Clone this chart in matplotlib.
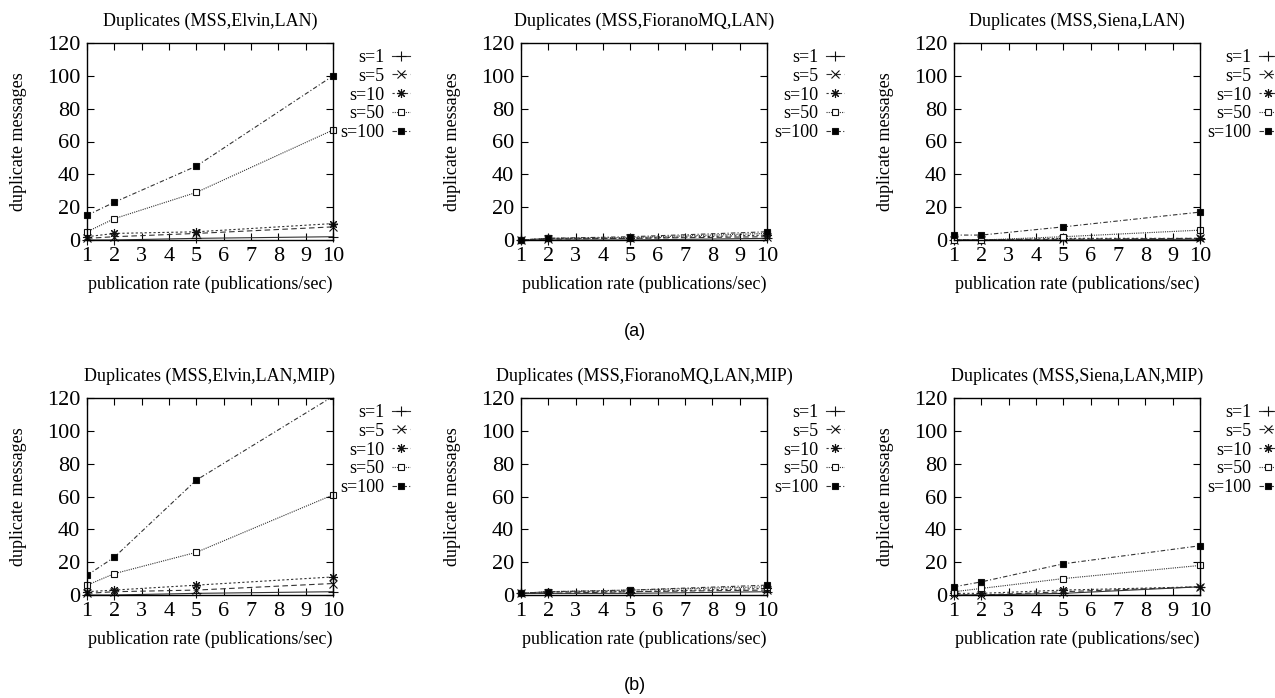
import matplotlib
matplotlib.use("Agg")
from matplotlib import pyplot as plt

rates = [1, 2, 5, 10]
series_labels = ['s=1', 's=5', 's=10', 's=50', 's=100']

titles = ['Duplicates (MSS,Elvin,LAN)',
          'Duplicates (MSS,FioranoMQ,LAN)',
          'Duplicates (MSS,Siena,LAN)',
          'Duplicates (MSS,Elvin,LAN,MIP)',
          'Duplicates (MSS,FioranoMQ,LAN,MIP)',
          'Duplicates (MSS,Siena,LAN,MIP)']

# duplicate messages per panel, one row per s value
elvin_lan = [[0, 0, 1, 2],
             [1, 2, 4, 8],
             [2, 4, 5, 10],
             [5, 13, 29, 67],
             [15, 23, 45, 100]]
fiorano_lan = [[0, 0, 0, 1],
               [0, 0.5, 1, 2],
               [0, 1, 1, 3],
               [0, 1, 1.5, 4],
               [0, 1, 2, 5]]
siena_lan = [[0, 0, 0, 0.5],
             [0, 0, 0.5, 1],
             [0, 0, 1, 1],
             [0, 0, 2, 6],
             [3, 3, 8, 17]]
elvin_mip = [[0, 0, 1, 2],
             [1, 2, 3, 7],
             [2, 3, 6, 11],
             [6, 13, 26, 61],
             [12, 23, 70, 121]]
fiorano_mip = [[1, 1, 1, 2],
               [1, 1, 2, 3],
               [1, 2, 2, 4],
               [1, 2, 3, 5],
               [1, 2, 3, 6]]
siena_mip = [[0, 0, 1, 5],
             [0, 0, 2, 5],
             [1, 1, 3, 5],
             [2, 4, 10, 18],
             [5, 8, 19, 30]]

panels = [elvin_lan, fiorano_lan, siena_lan, elvin_mip, fiorano_mip, siena_mip]

styles = [dict(marker='+', linestyle='-', mfc='none', ms=7),
          dict(marker='x', linestyle=(0, (5, 3)), mfc='none', ms=5.5),
          dict(marker=(8, 2, 0), linestyle=(0, (2, 2)), mfc='none', ms=6.5),
          dict(marker='s', linestyle=(0, (1, 1)), mfc='white', ms=4.8),
          dict(marker='s', linestyle=(0, (4, 2, 1, 2)), mfc='black', ms=5)]

plt.rcParams['font.family'] = 'Liberation Serif'

fig = plt.figure(figsize=(12.75, 6.98), dpi=100)
W, H = 1275.0, 698.0
lefts = [87, 521, 954]
tops = [43, 398]
aw, ah = 246, 197

for i, data in enumerate(panels):
    r, c = divmod(i, 3)
    ax = fig.add_axes([lefts[c] / W, 1 - (tops[r] + ah) / H, aw / W, ah / H])
    for vals, lab, st in zip(data, series_labels, styles):
        ax.plot(rates, vals, color='#333333', lw=0.8, mec='#111111',
                mew=0.8, label=lab, clip_on=max(vals) > 120, **st)
    ax.set_xlim(1, 10)
    ax.set_ylim(0, 120)
    ax.set_xticks(range(1, 11))
    ax.set_yticks(range(0, 121, 20))
    ax.tick_params(direction='in', top=True, right=True, length=5,
                   width=0.8, labelsize=16, pad=5)
    for sp in ax.spines.values():
        sp.set_linewidth(1.0)
    ax.set_title(titles[i], fontsize=13, pad=12)
    ax.set_xlabel('publication rate (publications/sec)', fontsize=13, labelpad=7)
    ax.set_ylabel('duplicate messages', fontsize=13, labelpad=14)
    ax.legend(loc='upper right', bbox_to_anchor=(1.313, 0.97), frameon=False,
              markerfirst=False, fontsize=13, handlelength=1.0,
              handletextpad=0.4, labelspacing=0.1, borderpad=0,
              borderaxespad=0)

fig.text(635 / W, 1 - 332 / H, '(a)', ha='center', va='center',
         fontsize=13, family='Liberation Sans')
fig.text(635 / W, 1 - 685 / H, '(b)', ha='center', va='center',
         fontsize=13, family='Liberation Sans')

fig.savefig('out.png', dpi=100)
